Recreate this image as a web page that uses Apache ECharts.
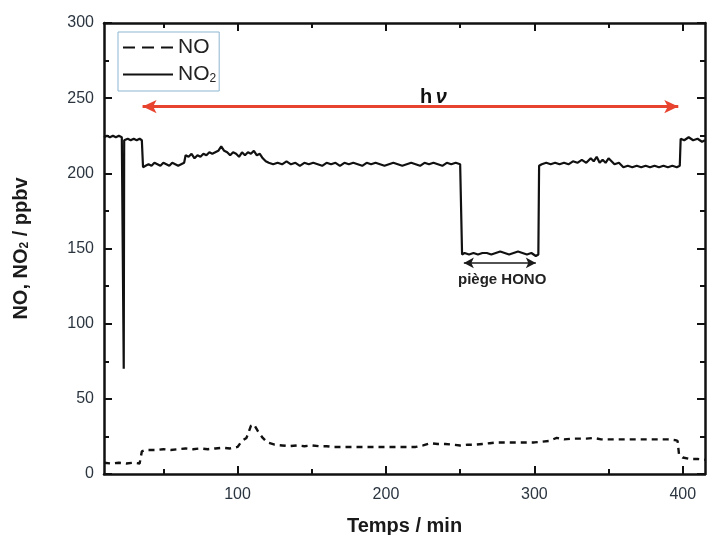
<!DOCTYPE html>
<html><head><meta charset="utf-8">
<script src="https://cdn.jsdelivr.net/npm/echarts@6/dist/echarts.min.js"></script>
<style>html,body{margin:0;padding:0;background:#fff}#c{width:709px;height:535px}</style>
</head><body><div id="c"></div>
<script>
// ---- Data ----
const no2Time = [
 10, 12, 14, 16, 18, 20, 22, 23, 23.3, 23.6,
 26, 28, 30, 32, 34, 35.5, 36.3, 38, 40, 42,
 44, 46, 48, 50, 52, 54, 56, 58, 60, 62,
 64, 65, 67, 69, 71, 73, 75, 77, 79, 81,
 83, 85, 87, 89, 91, 93, 95, 97, 99, 101,
 103, 105, 107, 109, 111, 113, 115, 117, 119, 121,
 124, 127, 130, 133, 136, 139, 142, 145, 148, 151,
 154, 157, 160, 163, 166, 169, 172, 175, 178, 181,
 184, 187, 190, 193, 196, 199, 202, 205, 208, 211,
 214, 217, 220, 223, 226, 229, 232, 235, 238, 241,
 244, 247, 250, 250.8, 251.3, 253, 256, 259, 262, 265,
 268, 271, 274, 277, 280, 283, 286, 289, 292, 295,
 298, 301, 302.7, 303.2, 305, 308, 311, 314, 317, 320,
 323, 326, 329, 332, 335, 338, 340, 342, 344, 346,
 348, 350, 352, 354, 357, 360, 363, 366, 369, 372,
 375, 378, 381, 384, 387, 390, 393, 396, 398, 398.6,
 401, 404, 407, 410, 413, 415
];
const no2Value = [
 224, 225, 224, 225, 224, 225, 224, 224, 70, 222,
 223, 222, 223, 222, 223, 222, 204, 205, 206, 205,
 207, 206, 205, 207, 206, 205, 207, 206, 205, 206,
 207, 212, 211, 213, 210, 212, 211, 213, 212, 214,
 213, 214, 215, 218, 215, 214, 212, 214, 213, 211,
 214, 212, 214, 213, 215, 212, 213, 210, 208, 207,
 206, 207, 206, 208, 206, 207, 205, 207, 206, 207,
 206, 205, 207, 206, 207, 205, 207, 206, 207, 206,
 205, 207, 206, 207, 206, 205, 206, 207, 206, 205,
 206, 207, 206, 205, 207, 206, 207, 206, 205, 207,
 206, 207, 206, 206, 146, 147, 146, 147, 146, 147,
 147, 146, 147, 148, 147, 146, 147, 148, 147, 146,
 147, 145, 146, 205, 206, 207, 206, 207, 206, 207,
 206, 208, 207, 209, 207, 210, 208, 211, 207, 209,
 207, 210, 208, 206, 207, 204, 205, 204, 205, 204,
 205, 204, 205, 204, 205, 204, 205, 204, 205, 223,
 222, 224, 222, 223, 221, 222
];
const noTime = [
 10, 15, 20, 25, 30, 34, 35.5, 38,
 45, 50, 55, 60, 65, 70, 75, 80, 85, 90, 95, 100,
 103, 106, 109, 111, 114, 117, 120,
 125, 130, 135, 140, 145, 150, 155, 160, 165, 170,
 175, 180, 185, 190, 195, 200, 205, 210, 215, 220,
 225, 230, 235, 240, 245, 250, 255, 260, 265, 270,
 275, 280, 285, 290, 295, 300, 305, 310, 315, 320,
 325, 330, 335, 340, 345, 350, 355, 360, 365, 370,
 375, 380, 385, 390, 395,
 396.5, 397.5, 400, 405, 410, 415
];
const noValue = [
 7.5, 7, 7.5, 7, 7.5, 7, 15, 16,
 16, 16.5, 16, 16.5, 17, 16.5, 17, 16.5, 17, 17.5, 17, 18,
 22, 24, 32, 33, 28, 24, 21,
 19.5, 19, 18.5, 19, 18.5, 19, 18.5, 18.5, 18, 18,
 18, 18, 18, 18, 18, 18, 18, 18, 18, 18,
 19, 20.5, 20, 20, 19.5, 19, 19.5, 19.5, 20, 20.5,
 21, 21, 21, 21, 21, 21, 21.5, 22, 24, 23,
 23.5, 23.5, 23.5, 24, 23, 23, 23, 23, 23, 23,
 23, 23, 23, 23, 22.5,
 22, 13, 11, 10, 10, 9.5
];
const xMajorTicks = [100, 200, 300, 400];
const xMinorTicks = [50, 150, 250, 350];
const seriesNames = ['NO', 'NO2'];
// annotations (data coordinates)
const hvArrow = [[36, 244.4], [397, 244.4]];
const hvText = [232, 250.5];
const trapArrow = [[252.5, 140.4], [301, 140.4]];
const trapText = [278.3, 129];

// ---- Chart ----
const FF = "'Liberation Sans', Arial, Helvetica, sans-serif";
const INK = '#111';
const LBL = '#2b3540';
const pair = (t, v) => t.map((x, i) => [x, v[i]]);

const baseX = (pos) => ({
  type: 'value', position: pos, min: 10, max: 415,
  splitLine: {show: false}
});
const baseY = (pos) => ({
  type: 'value', position: pos, min: 0, max: 300, interval: 50,
  splitLine: {show: false},
  axisLine: {show: true, lineStyle: {color: INK, width: 2.5}},
  axisTick: {show: true, inside: true, length: 8, lineStyle: {color: INK, width: 2}},
  minorTick: {show: true, splitNumber: 2, length: 5, lineStyle: {color: INK, width: 2}}
});
const hiddenMarker = {color: 'rgba(0,0,0,0)', borderColor: 'rgba(0,0,0,0)', borderWidth: 0, opacity: 0};

const option = {
  animation: false,
  backgroundColor: '#fff',
  grid: {left: 104, right: 4, top: 23, bottom: 61, containLabel: false, outerBoundsMode: 'none'},
  legend: {
    left: 118, top: 32, orient: 'vertical',
    itemWidth: 50, itemHeight: 14, itemGap: 6,
    padding: [5, 3, 6, 4],
    borderColor: '#8db6d2', borderWidth: 1,
    itemStyle: hiddenMarker,
    textStyle: {fontFamily: FF, fontSize: 21, color: '#222',
      rich: {sub: {fontFamily: FF, fontSize: 12, color: '#222', lineHeight: 8, verticalAlign: 'bottom'}}},
    formatter: (n) => n === 'NO2' ? 'NO{sub|2}' : n,
    data: [
      {name: 'NO', lineStyle: {type: [12, 7], width: 2}, itemStyle: hiddenMarker},
      {name: 'NO2', lineStyle: {width: 2}, itemStyle: hiddenMarker}
    ]
  },
  xAxis: [
    Object.assign(baseX('bottom'), {
      axisLine: {show: true, onZero: false, lineStyle: {color: INK, width: 2.5}},
      axisTick: {show: true, inside: true, length: 8, customValues: xMajorTicks, lineStyle: {color: INK, width: 2}},
      axisLabel: {show: true, customValues: xMajorTicks, margin: 13, fontSize: 16, color: LBL, fontFamily: FF},
      name: 'Temps / min', nameLocation: 'middle', nameGap: 42,
      nameTextStyle: {fontFamily: FF, fontSize: 20, fontWeight: 'bold', color: '#1a1a1a'}
    }),
    Object.assign(baseX('bottom'), {
      axisLine: {show: false, onZero: false},
      axisTick: {show: true, inside: true, length: 5, customValues: xMinorTicks, lineStyle: {color: INK, width: 2}},
      axisLabel: {show: false}
    }),
    Object.assign(baseX('top'), {
      axisLine: {show: true, onZero: false, lineStyle: {color: INK, width: 2.5}},
      axisTick: {show: true, inside: true, length: 8, customValues: xMajorTicks, lineStyle: {color: INK, width: 2}},
      axisLabel: {show: false}
    }),
    Object.assign(baseX('top'), {
      axisLine: {show: false, onZero: false},
      axisTick: {show: true, inside: true, length: 5, customValues: xMinorTicks, lineStyle: {color: INK, width: 2}},
      axisLabel: {show: false}
    })
  ],
  yAxis: [
    Object.assign(baseY('left'), {
      axisLabel: {margin: 10, fontSize: 16, color: LBL, fontFamily: FF},
      name: 'NO, NO{sub|2} / ppbv', nameLocation: 'middle', nameGap: 73,
      nameTextStyle: {fontFamily: FF, fontSize: 20, fontWeight: 'bold', color: '#1a1a1a',
        rich: {sub: {fontFamily: FF, fontSize: 12, fontWeight: 'bold', color: '#1a1a1a', lineHeight: 8, verticalAlign: 'bottom'}}}
    }),
    Object.assign(baseY('right'), {axisLabel: {show: false}})
  ],
  series: [
    {
      name: seriesNames[0], type: 'line', xAxisIndex: 0, yAxisIndex: 0,
      data: pair(noTime, noValue), symbol: 'none', showSymbol: false,
      lineStyle: {color: INK, width: 2.4, type: [6, 5]},
      itemStyle: {color: INK},
      markLine: {
        silent: true, symbol: ['arrow', 'arrow'], symbolSize: [8, 10],
        label: {show: false},
        lineStyle: {color: '#1a1a1a', width: 1.6, type: 'solid'},
        data: [[{coord: trapArrow[0]}, {coord: trapArrow[1]}]]
      },
      markPoint: {
        silent: true, symbol: 'circle', symbolSize: 0,
        data: [{coord: trapText, label: {show: true, position: 'inside', formatter: 'piège HONO',
          fontFamily: FF, fontSize: 15, fontWeight: 'bold', color: '#222'}}]
      }
    },
    {
      name: seriesNames[1], type: 'line', xAxisIndex: 0, yAxisIndex: 0,
      data: pair(no2Time, no2Value), symbol: 'none', showSymbol: false,
      lineStyle: {color: INK, width: 2.2},
      itemStyle: {color: INK},
      markLine: {
        silent: true, symbol: ['arrow', 'arrow'], symbolSize: [10, 14],
        label: {show: false},
        lineStyle: {color: '#e8432e', width: 3, type: 'solid'},
        data: [[{coord: hvArrow[0]}, {coord: hvArrow[1]}]]
      },
      markPoint: {
        silent: true, symbol: 'circle', symbolSize: 0,
        data: [{coord: hvText, label: {show: true, position: 'inside', formatter: '{h|h} {nu|ν}',
          rich: {
            h: {fontFamily: FF, fontSize: 20, fontWeight: 'bold', color: '#111'},
            nu: {fontFamily: FF, fontSize: 20, fontStyle: 'italic', fontWeight: 'bold', color: '#111'}
          }}}]
      }
    }
  ]
};

const chart = echarts.init(document.getElementById('c'), null, {renderer: 'canvas'});
chart.setOption(option);
</script>
</body></html>
